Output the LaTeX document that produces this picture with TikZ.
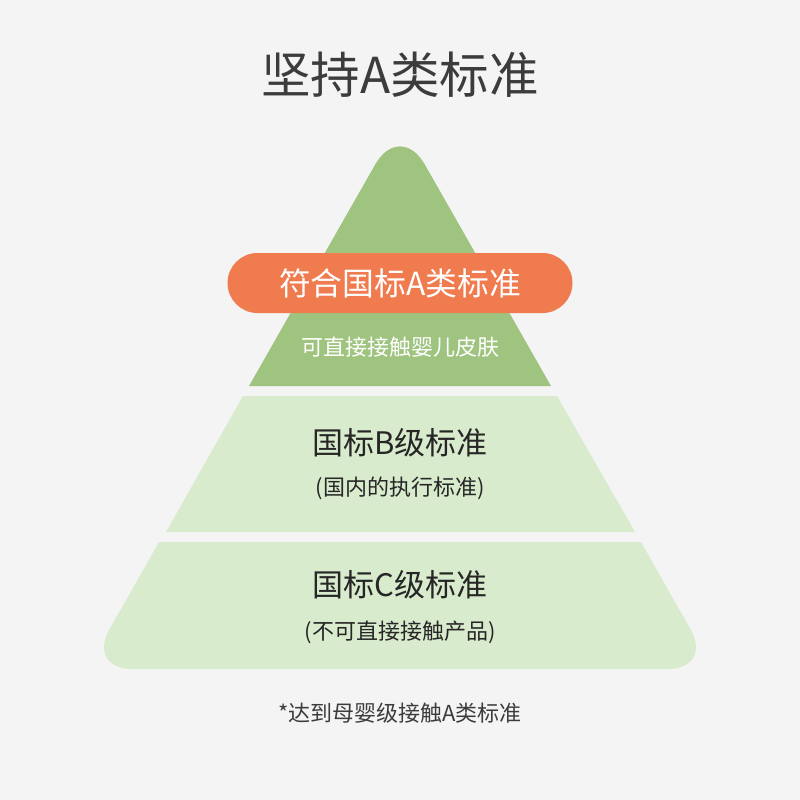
\documentclass[tikz,border=0pt]{standalone}
\usepackage{fontspec}
\setmainfont{Noto Sans CJK SC}
\usepackage{tikz}
\definecolor{pagegray}{HTML}{F4F4F4}
\definecolor{topgreen}{HTML}{9EC47F}
\definecolor{palegreen}{HTML}{D9EBCD}
\definecolor{pillorange}{HTML}{EF7B4E}
\definecolor{inkgray}{HTML}{262626}

\begin{document}
\begin{tikzpicture}[x=1pt, y=-1pt,
  heading/.style={text=inkgray!90, font=\fontsize{49.5}{56}\selectfont},
  tiername/.style={text=inkgray, font=\fontsize{31}{36}\selectfont},
  tiernote/.style={text=inkgray, font=\fontsize{22}{26}\selectfont},
  pill/.style={fill=pillorange, text=white, rounded corners=30pt,
    minimum width=345pt, minimum height=60pt, inner sep=0pt,
    font=\fontsize{31.8}{36}\selectfont}]
  % page
  \fill[pagegray] (0,0) rectangle (800,800);
  \node (title) [heading] at (400,75) {坚持A类标准};
  % tiers: top (A), middle (B), bottom (C)
  \fill[topgreen] (400,386) -- (249,386) [rounded corners=50] -- (400,121) [sharp corners] -- (551,386) -- cycle;
  \fill[palegreen] (243,396) -- (557,396) -- (635,532) -- (166,532) -- cycle;
  \fill[palegreen] (400,542) -- (641,542) [rounded corners=45] -- (713,669) -- (87,669) [sharp corners] -- (159,542) -- cycle;
  % tier A
  \node (pillA) [pill] at (400,283) {符合国标A类标准};
  \node (noteA) [tiernote, text=white] at (400,347) {可直接接触婴儿皮肤};
  % tier B
  \node (nameB) [tiername] at (400,443) {国标B级标准};
  \node (noteB) [tiernote] at (400,488) {(国内的执行标准)};
  % tier C
  \node (nameC) [tiername] at (400,585) {国标C级标准};
  \node (noteC) [tiernote] at (400,632) {(不可直接接触产品)};
  % footnote
  \node (foot) [tiernote, text=inkgray!90, font=\fontsize{22}{26}\selectfont] at (400,713) {*达到母婴级接触A类标准};
\end{tikzpicture}
\end{document}
